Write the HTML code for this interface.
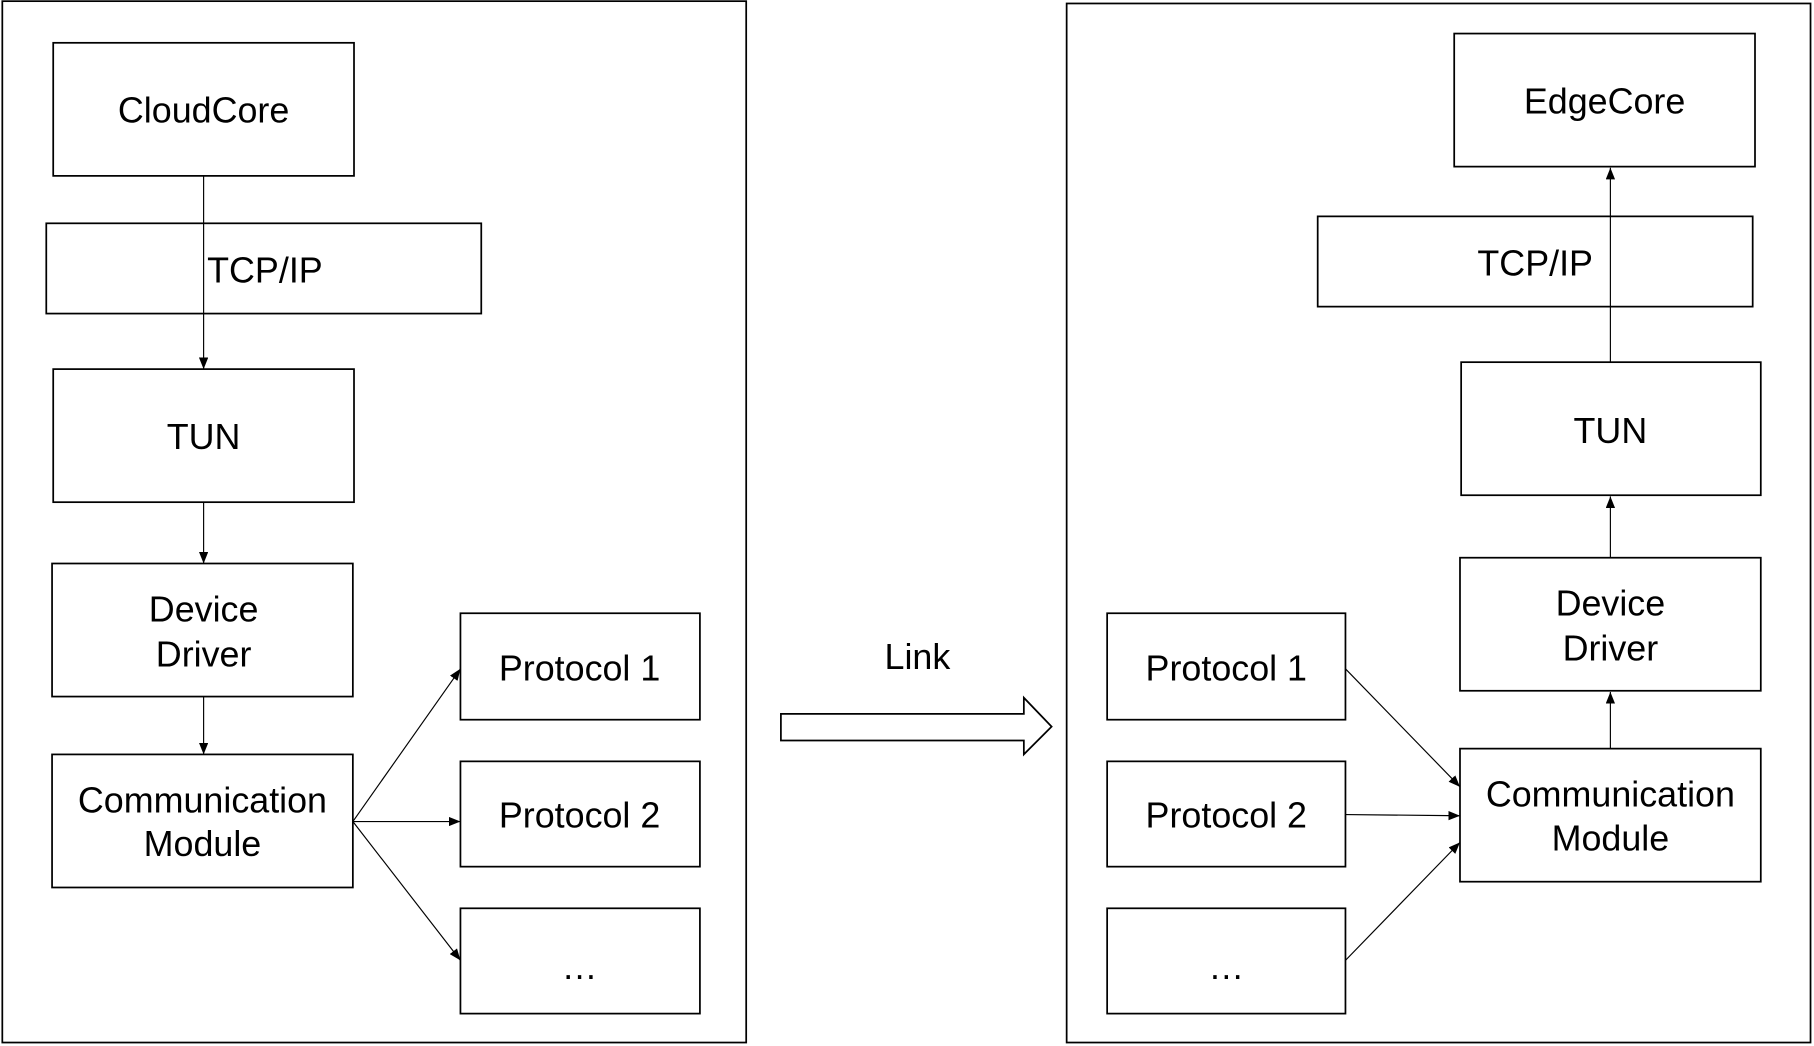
<!DOCTYPE html>
<html><head><meta charset="utf-8"><style>html,body{margin:0;padding:0;background:#fff;overflow:hidden}svg{display:block}</style></head>
<body>
<svg width="1814" height="1046" viewBox="0 0 1568 904" preserveAspectRatio="none" xmlns="http://www.w3.org/2000/svg" font-family="Liberation Sans, Arial, sans-serif" font-size="31" text-anchor="middle">
<defs><marker id="a" markerWidth="10" markerHeight="8" refX="10" refY="4" orient="auto" markerUnits="userSpaceOnUse"><path d="M0,0 L10,4 L0,8 z" fill="#000"/></marker></defs>
<g fill="none" stroke="#000" stroke-width="1.5">
<rect x="2" y="1" width="643" height="900"/>
<rect x="46" y="37" width="260" height="115"/>
<rect x="40" y="193" width="376" height="78"/>
<rect x="46" y="319" width="260" height="115"/>
<rect x="45" y="487" width="260" height="115"/>
<rect x="45" y="652" width="260" height="115"/>
<rect x="398" y="530" width="207" height="92"/>
<rect x="398" y="658" width="207" height="91"/>
<rect x="398" y="785" width="207" height="91"/>
<rect x="922" y="3" width="643" height="898"/>
<rect x="1257" y="29" width="260" height="115"/>
<rect x="1139" y="187" width="376" height="78"/>
<rect x="1263" y="313" width="259" height="115"/>
<rect x="1262" y="482" width="260" height="115"/>
<rect x="1262" y="647" width="260" height="115"/>
<rect x="957" y="530" width="206" height="92"/>
<rect x="957" y="658" width="206" height="91"/>
<rect x="957" y="785" width="206" height="91"/>
<path d="M675,617 H885 V603 L909,628 L885,652 V640 H675 Z"/>
</g>
<g stroke="#000" stroke-width="1" marker-end="url(#a)">
<line x1="176" y1="152" x2="176" y2="319"/>
<line x1="176" y1="434" x2="176" y2="487"/>
<line x1="176" y1="602" x2="176" y2="652"/>
<line x1="305" y1="710" x2="398" y2="578"/>
<line x1="305" y1="710" x2="398" y2="710"/>
<line x1="305" y1="710" x2="398" y2="830"/>
<line x1="1392" y1="313" x2="1392" y2="145"/>
<line x1="1392" y1="482" x2="1392" y2="429"/>
<line x1="1392" y1="647" x2="1392" y2="598"/>
<line x1="1163" y1="578" x2="1262" y2="680"/>
<line x1="1163" y1="704" x2="1262" y2="705"/>
<line x1="1163" y1="830" x2="1262" y2="728"/>
</g>
<g fill="#000">
<text x="176" y="106">CloudCore</text>
<text x="229" y="244">TCP/IP</text>
<text x="176" y="388">TUN</text>
<text x="176" y="537">Device</text><text x="176" y="576">Driver</text>
<text x="175" y="702">Communication</text><text x="175" y="740">Module</text>
<text x="501" y="588">Protocol 1</text>
<text x="501" y="715">Protocol 2</text>
<text x="501" y="846">…</text>
<text x="793" y="578">Link</text>
<text x="1387" y="98">EdgeCore</text>
<text x="1327" y="238">TCP/IP</text>
<text x="1392" y="383">TUN</text>
<text x="1392" y="532">Device</text><text x="1392" y="571">Driver</text>
<text x="1392" y="697">Communication</text><text x="1392" y="735">Module</text>
<text x="1060" y="588">Protocol 1</text>
<text x="1060" y="715">Protocol 2</text>
<text x="1060" y="846">…</text>
</g>
</svg>
</body></html>
